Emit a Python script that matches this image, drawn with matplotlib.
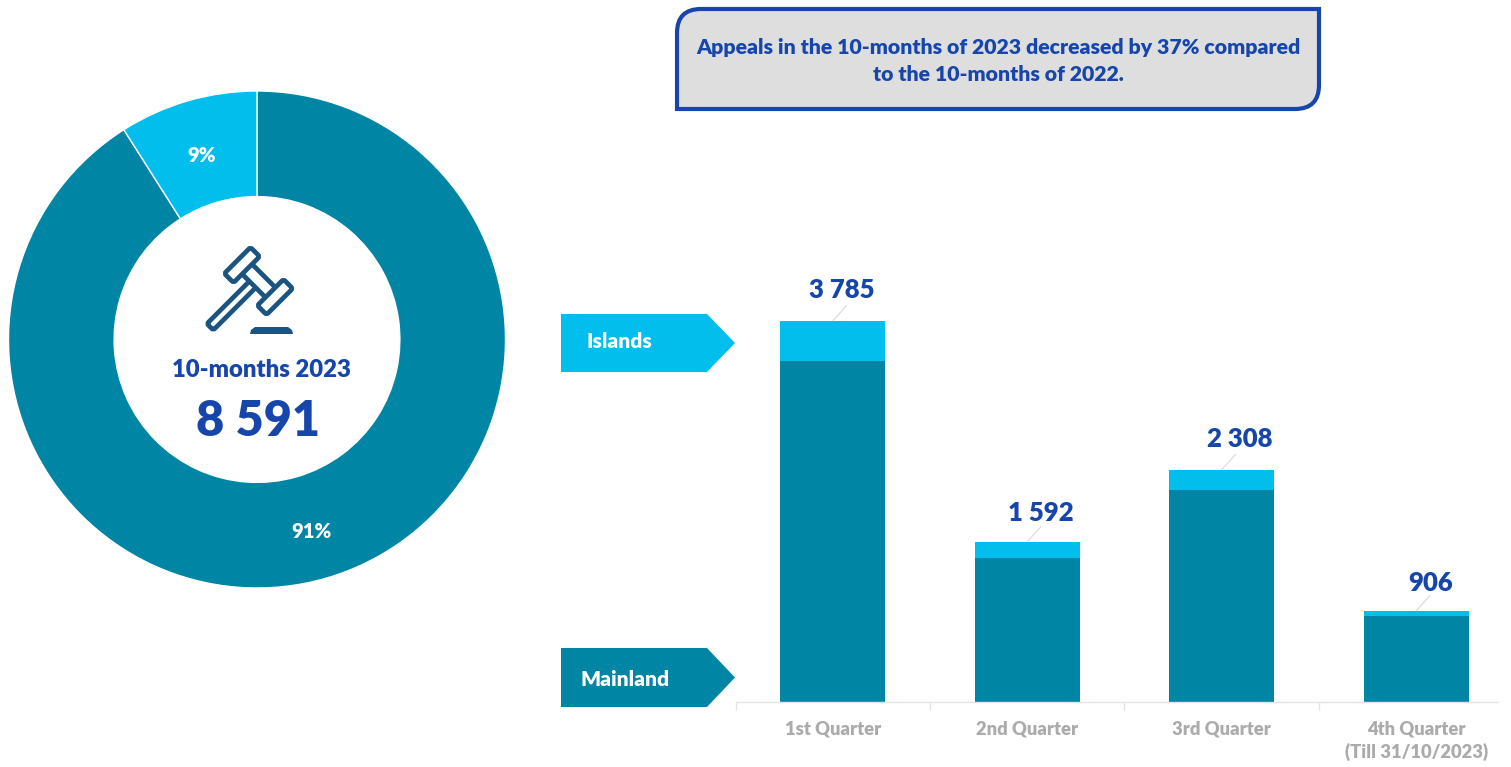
import matplotlib
matplotlib.use('Agg')
import matplotlib.pyplot as plt
from matplotlib.patches import FancyBboxPatch, PathPatch, Polygon
from matplotlib.path import Path
from matplotlib.transforms import Affine2D

plt.rcParams['font.family'] = ['Lato', 'DejaVu Sans']
plt.rcParams['font.weight'] = 'heavy'

TEAL = '#0085A5'
SKY = '#02BEED'
BLUE = '#1646AC'
NAVY = '#1B5480'
GREY = '#ABABAB'

# data
quarters = ['1st Quarter', '2nd Quarter', '3rd Quarter', '4th Quarter\n(Till 31/10/2023)']
mainland = [3388, 1433, 2109, 856]
islands = [397, 159, 199, 50]
totals = ['3 785', '1 592', '2 308', '906']
total_values = [3785, 1592, 2308, 906]
share_values = [91, 9]
share_labels = ['91%', '9%']
share_colors = [TEAL, SKY]
center_title = '10-months 2023'
center_total = '8 591'
note_lines = 'Appeals in the 10-months of 2023 decreased by 37% compared\nto the 10-months of 2022.'

# where each total sits relative to its bar top, in points
label_offsets = [(6.5, 22.3), (10, 20.3), (13, 22.3), (10.5, 20.3)]

W, H = 1511, 767
fig = plt.figure(figsize=(W / 100, H / 100), dpi=100)

# page layer in pixel coordinates
page = fig.add_axes([0, 0, 1, 1], zorder=3)
page.set_xlim(0, W)
page.set_ylim(H, 0)
page.axis('off')

# =============================================================================
# donut
# =============================================================================
donut = fig.add_axes([0, 0, 1, 1], zorder=1)
donut.pie(share_values, colors=share_colors, startangle=90, counterclock=False, radius=1,
          wedgeprops={'width': 0.425, 'edgecolor': 'white', 'linewidth': 1})
donut.set_aspect('equal')
donut.set_xlim(-257 / 248.5, (W - 257) / 248.5)
donut.set_ylim(-(H - 339.5) / 248.5, 339.5 / 248.5)
donut.axis('off')

page.text(311, 531, share_labels[0], color='white', fontsize=14.5, ha='center', va='center')
page.text(202, 155, share_labels[1], color='white', fontsize=14.5, ha='center', va='center')
page.text(261.5, 370, center_title, color=BLUE, fontsize=17.2, ha='center', va='center')
page.text(258, 421, center_total, color=BLUE, fontsize=35, ha='center', va='center')


# gavel icon
def gavel_bar(cx, cy, length, width, angle, zorder=5):
    box = FancyBboxPatch((cx - length / 2, cy - width / 2), length, width,
                         boxstyle='round,pad=0,rounding_size=2.5', facecolor='white',
                         edgecolor=NAVY, linewidth=3.4, zorder=zorder)
    box.set_transform(Affine2D().rotate_deg_around(cx, cy, angle) + page.transData)
    page.add_patch(box)


gavel_bar(232, 305, 62, 9, -45)
gavel_bar(259, 281, 36, 14, 45, zorder=6)
gavel_bar(242, 265, 37, 13, -45, zorder=7)
gavel_bar(275, 297, 37, 13, -45, zorder=7)
page.add_patch(Polygon([(250, 334), (251, 330), (255, 327), (288, 327), (292, 330), (293, 334)],
                       closed=True, facecolor=NAVY, edgecolor='none', zorder=5))

# =============================================================================
# note box, only two corners rounded
# =============================================================================
x0, x1, y0, y1, r = 677, 1319, 9, 109, 24
verts = [(x0, y1), (x0, y0 + r), (x0, y0), (x0 + r, y0), (x1, y0), (x1, y1 - r),
         (x1, y1), (x1 - r, y1), (x0, y1), (x0, y1)]
codes = [Path.MOVETO, Path.LINETO, Path.CURVE3, Path.CURVE3, Path.LINETO, Path.LINETO,
         Path.CURVE3, Path.CURVE3, Path.LINETO, Path.CLOSEPOLY]
page.add_patch(PathPatch(Path(verts, codes), facecolor='#DEDEDE', edgecolor=BLUE, linewidth=3))
page.text(998, 61, note_lines, color=BLUE, fontsize=15.3, ha='center', va='center', linespacing=1.52)

# =============================================================================
# legend tags
# =============================================================================
for top, bottom, color, label, tx, dy in [(314, 372, SKY, 'Islands', 587, -1.5),
                                          (648, 707, TEAL, 'Mainland', 580, 1.5)]:
    mid = (top + bottom) / 2
    page.add_patch(Polygon([(561, top), (707, top), (735, mid), (707, bottom), (561, bottom)],
                           closed=True, facecolor=color, edgecolor='none'))
    page.text(tx, mid + dy, label, color='white', fontsize=15, ha='left', va='center')

# =============================================================================
# stacked bars
# =============================================================================
ax = fig.add_axes([735.5 / W, (H - 702) / H, (1498 - 735) / W, (702 - 250) / H], zorder=2)
ax.patch.set_alpha(0)
ax.set_xlim(-0.5, 3.423)
ax.set_ylim(0, 452 / 0.1007)
xpos = range(len(quarters))
ax.bar(xpos, mainland, width=0.54, color=TEAL)
ax.bar(xpos, islands, width=0.54, bottom=mainland, color=SKY)

for i, (val, lab) in enumerate(zip(total_values, totals)):
    ax.annotate('', xy=(i, val), xytext=(10, 11), textcoords='offset points',
                arrowprops=dict(arrowstyle='-', color='#D9D9D9', lw=0.8, shrinkA=0, shrinkB=0))
    ax.annotate(lab, xy=(i, val), xytext=label_offsets[i], textcoords='offset points', color=BLUE,
                fontsize=18.5, ha='center', va='center', annotation_clip=False)

for side in ['top', 'right', 'left']:
    ax.spines[side].set_visible(False)
ax.spines['bottom'].set_color('#E4E4E4')
ax.spines['bottom'].set_linewidth(1)
ax.yaxis.set_visible(False)
ax.set_xticks([-0.5, 0.5, 1.5, 2.5])
ax.set_xticklabels([])
ax.tick_params(axis='x', length=6, color='#E4E4E4', width=1)
ax.set_xticks(list(xpos), minor=True)
ax.set_xticklabels(quarters, minor=True, color=GREY, fontsize=13.2, linespacing=1.4, va='top')
ax.tick_params(axis='x', which='minor', length=0, pad=13)

fig.savefig('out.png', dpi=100)
